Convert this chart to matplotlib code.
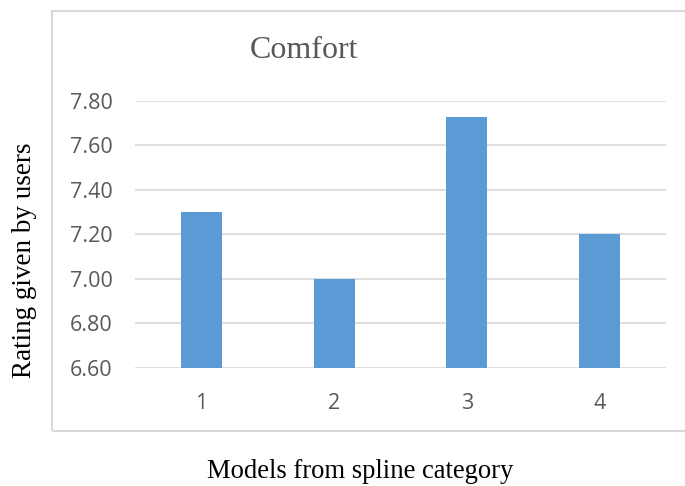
import matplotlib
matplotlib.use("Agg")
import matplotlib.pyplot as plt
from matplotlib.patches import Rectangle

models = ["1", "2", "3", "4"]
ratings = [7.30, 7.00, 7.73, 7.20]
yticks = [6.60, 6.80, 7.00, 7.20, 7.40, 7.60, 7.80]

fig = plt.figure(figsize=(6.85, 4.86), dpi=100)
ax = fig.add_axes([135 / 685, 1 - 368 / 486, 531 / 685, 267 / 486])

# chart frame (right edge runs off the canvas)
fig.patches.append(Rectangle((52 / 685, 1 - 431 / 486), 1.0, 420 / 486,
                             transform=fig.transFigure, fill=False,
                             edgecolor="#d9d9d9", linewidth=1.5, zorder=0))

ax.bar(range(len(models)), ratings, width=0.31, color="#5b9bd5", zorder=3)
ax.set_xlim(-0.5, len(models) - 0.5)
ax.set_ylim(6.6, 7.8)
ax.set_yticks(yticks)
ax.set_yticklabels([f"{v:.2f}" for v in yticks])
ax.set_xticks(range(len(models)))
ax.set_xticklabels(models)
ax.grid(axis="y", color="#d9d9d9", linewidth=1.2, zorder=0)
for s in ax.spines.values():
    s.set_visible(False)
ax.tick_params(length=0, labelsize=15.5, labelcolor="#595959")
ax.tick_params(axis="y", pad=16)
ax.tick_params(axis="x", pad=18)
for lbl in ax.get_xticklabels() + ax.get_yticklabels():
    lbl.set_family("Open Sans")

fig.text(304 / 685, 1 - 51 / 486, "Comfort", family="Liberation Serif",
         fontsize=23, color="#595959", ha="center", va="center")
fig.text(25 / 685, 1 - 260 / 486, "Rating given by users", family="Liberation Serif",
         fontsize=19.5, rotation=90, ha="center", va="center")
fig.text(360 / 685, 1 - 471 / 486, "Models from spline category", family="Liberation Serif",
         fontsize=19.2, ha="center", va="center")

fig.savefig("out.png", dpi=100)
